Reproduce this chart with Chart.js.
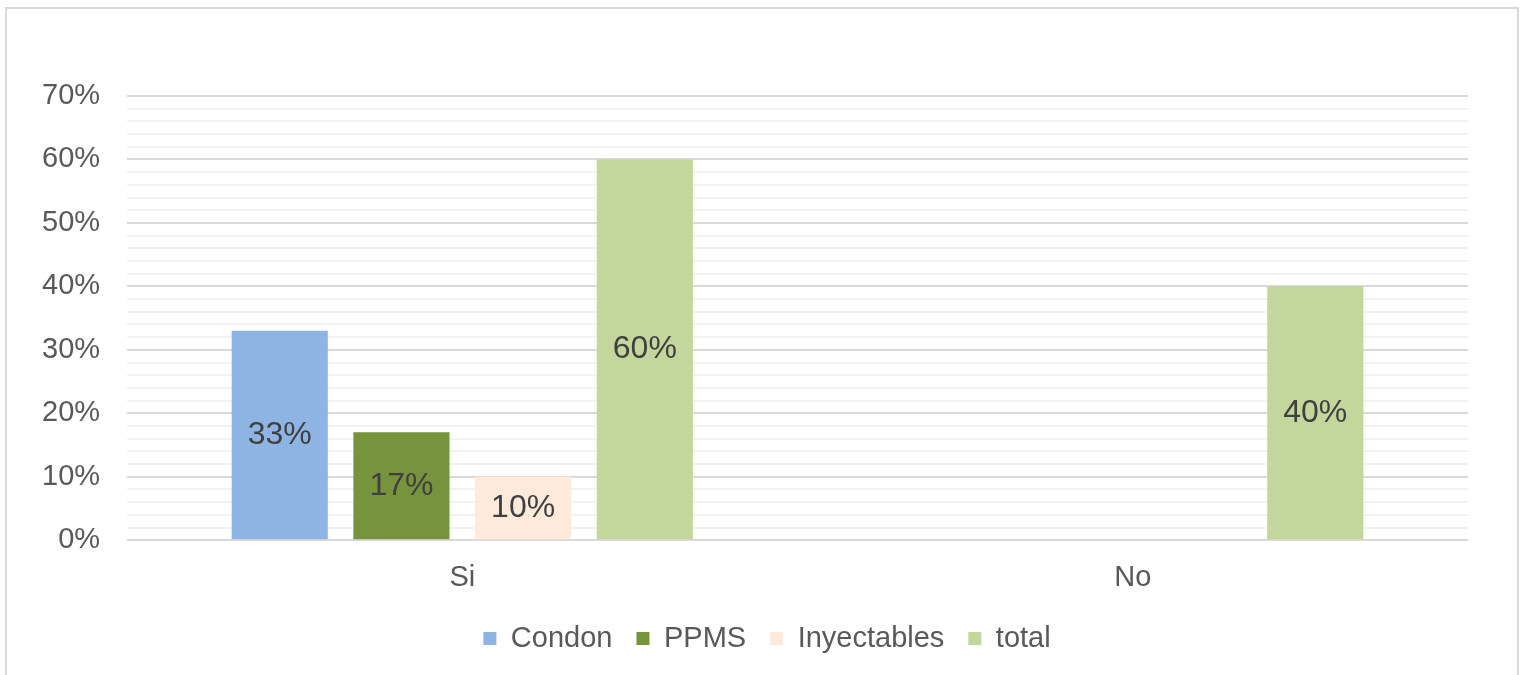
<!DOCTYPE html>
<html>
<head>
<meta charset="utf-8">
<script src="https://cdn.jsdelivr.net/npm/chart.js@4/dist/chart.umd.min.js"></script>
<style>
  html, body { margin: 0; padding: 0; background: #fff; }
  #frame { position: absolute; left: 5px; top: 7px; width: 1514px; height: 700px; border: 2px solid #D9D9D9; box-sizing: border-box; }
  #wrap { position: absolute; left: 0; top: 0; width: 1525px; height: 675px; }
</style>
</head>
<body>
<div id="frame"></div>
<div id="wrap"><canvas id="c"></canvas></div>
<script>
const categories = ["Si", "No"];
const seriesNames = ["Condon", "PPMS", "Inyectables", "total"];
const condon = [33, null];
const ppms = [17, null];
const inyectables = [10, null];
const total = [60, 40];
const seriesColors = ["#8EB4E3", "#77933C", "#FDEADA", "#C3D69B"];

const FONT = "'Liberation Sans', Arial, sans-serif";

const labelPlugin = {
  id: 'barLabels',
  afterLayout(chart) {
    if (chart.legend) { chart.legend.left += 51; }
  },
  afterDatasetsDraw(chart) {
    const ctx = chart.ctx;
    ctx.save();
    ctx.font = "32px " + FONT;
    ctx.fillStyle = "#404040";
    ctx.textAlign = "center";
    ctx.textBaseline = "middle";
    chart.data.datasets.forEach((ds, i) => {
      const meta = chart.getDatasetMeta(i);
      meta.data.forEach((el, j) => {
        const v = ds.data[j];
        if (v === null || v === undefined) return;
        const y = (el.y + el.base) / 2;
        ctx.fillText(v + "%", el.x, y);
      });
    });
    ctx.restore();
  }
};

const arrays = [condon, ppms, inyectables, total];
new Chart(document.getElementById('c'), {
  type: 'bar',
  data: {
    labels: categories,
    datasets: seriesNames.map((n, i) => ({
      label: n,
      data: arrays[i],
      backgroundColor: seriesColors[i],
      borderWidth: 0,
      categoryPercentage: 0.726,
      barPercentage: 0.79
    }))
  },
  options: {
    responsive: true,
    maintainAspectRatio: false,
    animation: false,
    layout: { padding: { left: 15, right: 57, top: 96, bottom: 12 } },
    plugins: {
      legend: {
        position: 'bottom',
        labels: {
          font: { family: FONT, size: 29 },
          color: '#595959',
          boxWidth: 13,
          boxHeight: 13,
          padding: 24
        }
      },
      tooltip: { enabled: false }
    },
    scales: {
      x: {
        grid: { display: false, drawTicks: false },
        border: { display: false },
        ticks: { font: { family: FONT, size: 29 }, color: '#595959', padding: 20 },
        afterFit: (scale) => { scale.height -= 15; }
      },
      y: {
        min: 0, max: 70,
        border: { display: false },
        grid: {
          drawTicks: false,
          lineWidth: 2,
          color: (c) => (c.tick && c.tick.value % 10 === 0) ? '#D9D9D9' : '#F2F2F2'
        },
        ticks: {
          stepSize: 2,
          autoSkip: false,
          padding: 27,
          font: { family: FONT, size: 29 },
          color: '#595959',
          callback: (v) => (v % 10 === 0) ? v + '%' : ''
        }
      }
    }
  },
  plugins: [labelPlugin]
});
</script>
</body>
</html>
